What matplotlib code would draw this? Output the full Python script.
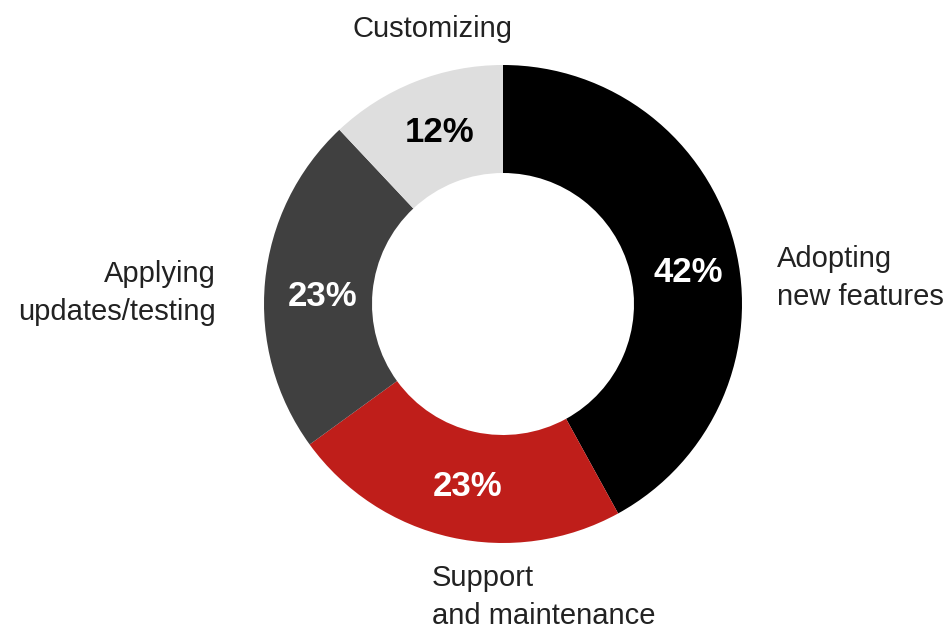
import matplotlib.pyplot as plt

categories = ['Adopting\nnew features', 'Support\nand maintenance',
              'Applying\nupdates/testing', 'Customizing']
shares = [42, 23, 23, 12]
colors = ['#000000', '#BF1E1A', '#404040', '#DEDEDE']
pct_colors = ['white', 'white', 'white', 'black']

W, H = 951, 630
fig = plt.figure(figsize=(W / 100, H / 100), dpi=100)
ax = fig.add_axes([0, 0, 1, 1])

cx, cy = 503, H - 304
R = 239

wedges, _, autotexts = ax.pie(
    shares, colors=colors, startangle=90, counterclock=False,
    radius=R, center=(cx, cy), autopct='%d%%', pctdistance=0.775,
    wedgeprops=dict(width=108, linewidth=0),
    textprops=dict(fontsize=25, fontweight='heavy', family='Liberation Sans'))

# percentage label spots as placed in the original (pixels from top-left)
pct_pos = [(688, 273), (468, 487), (323, 296), (440, 132)]
for t, c, (x, y) in zip(autotexts, pct_colors, pct_pos):
    t.set_color(c)
    t.set_position((x, H - y))

ax.set_xlim(0, W)
ax.set_ylim(0, H)
ax.set_aspect('equal')
ax.axis('off')

# outer labels (image pixel positions, y from top)
label_pos = [(777, 278, 'left'), (432, 597, 'left'),
             (216, 293, 'right'), (432, 29, 'center')]
for lab, (x, y, ha) in zip(categories, label_pos):
    ax.text(x, H - y, lab, ha=ha, va='center', fontsize=21,
            family='Liberation Sans', color='#222222', linespacing=1.45)

fig.savefig('out.png', dpi=100)
